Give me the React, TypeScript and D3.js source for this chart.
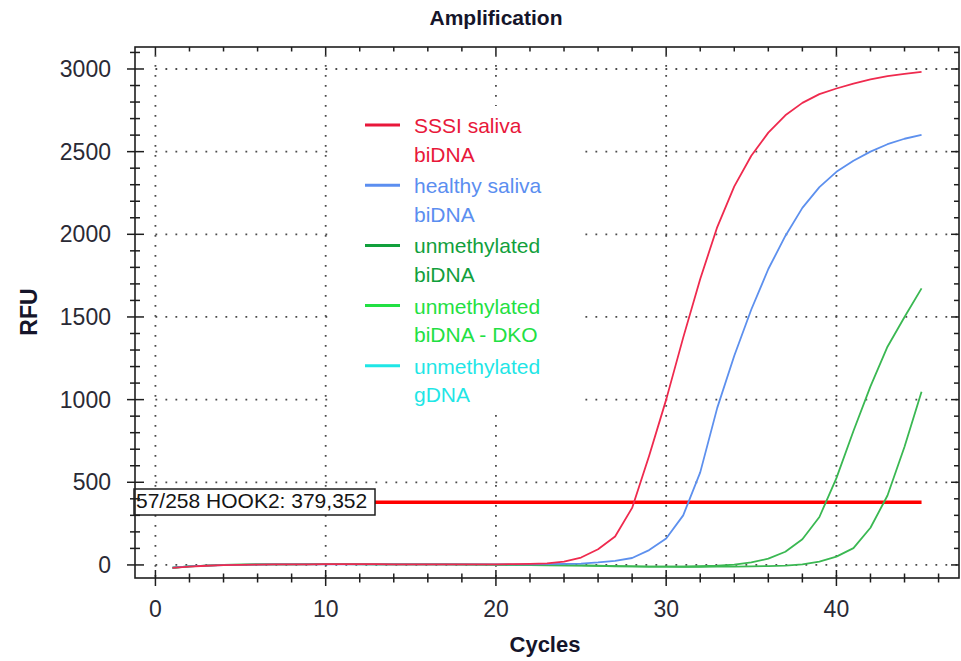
import React from "react";
import * as d3 from "d3";

// Amplification curves (RFU per cycle, cycles 1..45)
const cycles: number[] = d3.range(1, 46);

const sssiSaliva: number[] = [
  -18, -10, -5, -1, 1, 2, 3, 4, 4, 5, 5, 5, 5, 4, 4, 4, 4, 4, 4, 4,
  5, 7, 10, 20, 45, 95, 172, 345, 660, 1000, 1375, 1730, 2044, 2290, 2475,
  2615, 2720, 2795, 2848, 2882, 2912, 2937, 2957, 2970, 2982,
];
const healthySaliva: number[] = [
  -16, -9, -4, -1, 1, 2, 3, 3, 4, 4, 4, 4, 4, 4, 4, 4, 4, 3, 3, 3,
  3, 4, 5, 6, 8, 15, 25, 42, 90, 160, 300, 560, 950, 1265, 1545,
  1790, 1990, 2160, 2285, 2378, 2445, 2500, 2545, 2578, 2601,
];
const unmethylatedBiDNA: number[] = [
  -17, -9, -4, 0, 2, 3, 3, 4, 5, 5, 5, 5, 4, 4, 4, 3, 3, 3, 2, 2,
  1, 0, -1, -2, -3, -5, -7, -9, -10, -10, -10, -8, -5, 2, 15,
  38, 80, 155, 290, 525, 810, 1080, 1320, 1500, 1673,
];
const unmethylatedDKO: number[] = [
  -17, -9, -4, 0, 2, 3, 3, 4, 4, 5, 5, 4, 4, 4, 3, 3, 3, 2, 2, 1,
  0, -1, -2, -3, -4, -6, -8, -9, -10, -10, -11, -11, -10, -10, -9,
  -7, -4, 3, 20, 50, 102, 225, 420, 715, 1048,
];
// no gDNA wells are plotted; the series only appears in the legend
const unmethylatedGDNA: number[] = [];

const seriesNames: string[][] = [
  ["SSSI saliva", "biDNA"],
  ["healthy saliva", "biDNA"],
  ["unmethylated", "biDNA"],
  ["unmethylated", "biDNA - DKO"],
  ["unmethylated", "gDNA"],
];
const legendColors: string[] = ["#e8173a", "#5b8ef0", "#11a03c", "#22e043", "#1fe6e6"];
const curveColors: string[] = ["#ef2a4e", "#5d90ee", "#3ab852", "#3ab852", "#2fe0e0"];
const seriesValues: number[][] = [
  sssiSaliva,
  healthySaliva,
  unmethylatedBiDNA,
  unmethylatedDKO,
  unmethylatedGDNA,
];

const xTicksMajor: number[] = [0, 10, 20, 30, 40];
const xTicksMinor: number[] = d3.range(0, 47, 2).filter((v) => v % 10 !== 0);
const yTicksMajor: number[] = [0, 500, 1000, 1500, 2000, 2500, 3000];
const yTicksMinor: number[] = d3.range(0, 3101, 100).filter((v) => v % 500 !== 0);

const threshold = 379.352;
const thresholdLabel = "57/258 HOOK2: 379,352";
const thresholdEndCycle = 45;

const W = 961;
const H = 661;
const plot = { left: 135, right: 959, top: 47, bottom: 578 };
const FONT = "'Liberation Sans', Arial, Helvetica, sans-serif";

export default function App() {
  const x = d3.scaleLinear().domain([-1.2, 47.2]).range([plot.left, plot.right]);
  const y = d3.scaleLinear().domain([-79, 3133]).range([plot.bottom, plot.top]);

  const line = d3
    .line<number>()
    .x((_, i) => x(cycles[i]))
    .y((v) => y(v));

  const drawOrder = [4, 3, 2, 1, 0];
  const gridStroke = "#4a4a4a";
  const frameStroke = "#1e1e1e";

  return (
    <svg
      width={W}
      height={H}
      style={{ position: "absolute", left: 0, top: 0, background: "#fff" }}
      fontFamily={FONT}
    >
      <rect x={0} y={0} width={W} height={H} fill="#fff" />

      {/* title */}
      <text x={496} y={25} textAnchor="middle" fontSize={21} fontWeight="bold" fill="#15152a">
        Amplification
      </text>

      {/* dotted grid */}
      <g stroke={gridStroke} strokeWidth={1.8} strokeDasharray="1.8,8.2">
        {yTicksMajor.map((v) => (
          <line key={"gy" + v} x1={x(0)} x2={plot.right} y1={y(v)} y2={y(v)} />
        ))}
        {xTicksMajor.map((v) => (
          <line key={"gx" + v} x1={x(v)} x2={x(v)} y1={plot.top + 8} y2={plot.bottom} />
        ))}
      </g>

      {/* legend backdrop */}
      <rect x={335} y={106} width={245} height={308} fill="#fff" />

      {/* threshold */}
      <line
        x1={plot.left}
        x2={x(thresholdEndCycle)}
        y1={y(threshold)}
        y2={y(threshold)}
        stroke="#ff0000"
        strokeWidth={3.5}
      />

      {/* curves */}
      <g fill="none" strokeWidth={1.8} strokeLinejoin="round">
        {drawOrder
          .filter((k) => seriesValues[k].length > 0)
          .map((k) => (
            <path key={"s" + k} d={line(seriesValues[k]) || ""} stroke={curveColors[k]} />
          ))}
      </g>

      {/* threshold label */}
      <rect x={134} y={489} width={241} height={26} fill="#fff" stroke={frameStroke} strokeWidth={1.5} />
      <text x={136} y={507.5} fontSize={21} fill="#151515">
        {thresholdLabel}
      </text>

      {/* frame */}
      <rect
        x={plot.left}
        y={plot.top}
        width={plot.right - plot.left}
        height={plot.bottom - plot.top}
        fill="none"
        stroke={frameStroke}
        strokeWidth={1.6}
      />

      {/* ticks */}
      <g stroke={frameStroke} strokeWidth={1.5}>
        {xTicksMajor.map((v) => (
          <g key={"xt" + v}>
            <line x1={x(v)} x2={x(v)} y1={plot.bottom - 8} y2={plot.bottom + 8} />
            <line x1={x(v)} x2={x(v)} y1={plot.top} y2={plot.top + 8} />
          </g>
        ))}
        {xTicksMinor.map((v) => (
          <g key={"xm" + v}>
            <line x1={x(v)} x2={x(v)} y1={plot.bottom - 4.5} y2={plot.bottom + 4.5} />
            <line x1={x(v)} x2={x(v)} y1={plot.top} y2={plot.top + 4.5} />
          </g>
        ))}
        {yTicksMajor.map((v) => (
          <g key={"yt" + v}>
            <line x1={plot.left - 8} x2={plot.left + 9} y1={y(v)} y2={y(v)} />
            <line x1={plot.right - 8} x2={plot.right} y1={y(v)} y2={y(v)} />
          </g>
        ))}
        {yTicksMinor.map((v) => (
          <g key={"ym" + v}>
            <line x1={plot.left - 5} x2={plot.left + 5} y1={y(v)} y2={y(v)} />
            <line x1={plot.right - 5} x2={plot.right} y1={y(v)} y2={y(v)} />
          </g>
        ))}
      </g>

      {/* tick labels */}
      <g fontSize={23} fill="#2a2a35">
        {yTicksMajor.map((v) => (
          <text key={"yl" + v} x={111} y={y(v) + 8} textAnchor="end">
            {v}
          </text>
        ))}
        {xTicksMajor.map((v) => (
          <text key={"xl" + v} x={x(v)} y={617} textAnchor="middle">
            {v}
          </text>
        ))}
      </g>

      {/* axis titles */}
      <text x={545} y={652} textAnchor="middle" fontSize={22} fontWeight="bold" fill="#15152a">
        Cycles
      </text>
      <text
        transform="translate(37,312) rotate(-90)"
        textAnchor="middle"
        fontSize={23}
        fontWeight="bold"
        fill="#15152a"
      >
        RFU
      </text>

      {/* legend */}
      <g fontSize={21}>
        {seriesNames.map((lines, i) => {
          const ly = 125 + i * 60.2;
          return (
            <g key={"lg" + i}>
              <line x1={365} x2={400} y1={ly} y2={ly} stroke={legendColors[i]} strokeWidth={3} />
              <text x={414} y={ly + 8} fill={legendColors[i]}>
                {lines[0]}
              </text>
              <text x={414} y={ly + 36.5} fill={legendColors[i]}>
                {lines[1]}
              </text>
            </g>
          );
        })}
      </g>
    </svg>
  );
}
